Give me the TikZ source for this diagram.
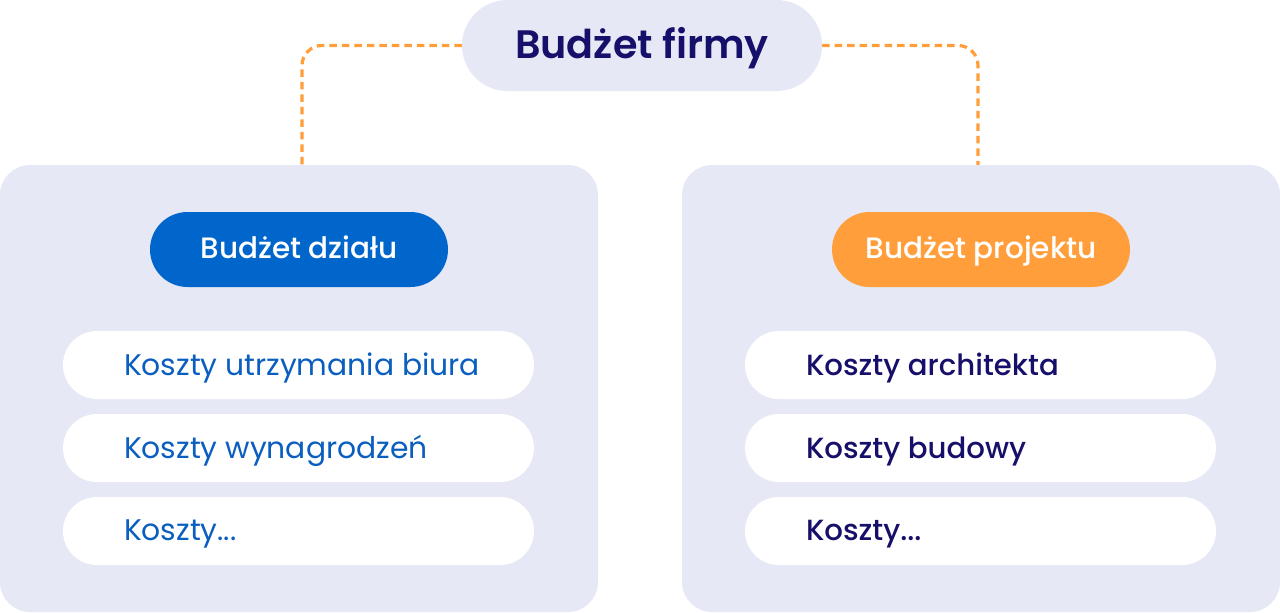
\documentclass[tikz,border=0pt]{standalone}
\usepackage{fontspec}
\setmainfont{Poppins}
\newfontfamily\popmed{Poppins Medium}
\newfontfamily\popsemi{Poppins SemiBold}
\usepackage{tikz}
\usetikzlibrary{shapes,arrows,positioning}

\definecolor{panelbg}{HTML}{E6E9F5}
\definecolor{navy}{HTML}{16106A}
\definecolor{blue}{HTML}{0066CC}
\definecolor{itemblue}{HTML}{0A5EBF}
\definecolor{orange}{HTML}{FF9E3A}

\tikzset{
	panel/.style={shape=rectangle, fill=panelbg, rounded corners=30pt, minimum width=598pt, minimum height=447pt},
	pill/.style={shape=rectangle, rounded corners=37.5pt, minimum width=298pt, minimum height=75pt, text=white, text depth=4pt, font=\popmed\fontsize{29.5}{33}\selectfont},
	item/.style={shape=rectangle, fill=white, rounded corners=34pt, minimum width=471pt, minimum height=68pt},
	itemtext/.style={anchor=west, inner sep=0pt, yshift=-3pt, font=\fontsize{29.8}{34}\selectfont},
	link/.style={draw=orange, line width=3.2pt, dash pattern=on 7.5pt off 5pt, rounded corners=20pt}
}

\begin{document}
\begin{tikzpicture}[x=1pt, y=-1pt]
	\useasboundingbox (0,0) rectangle (1280,613);

	\node[panel] (panelL) at (299,388.5) {};
	\node[panel] (panelR) at (981,388.5) {};

	\node[shape=rectangle, fill=panelbg, rounded corners=45.5pt, minimum width=360pt, minimum height=91pt, text=navy, text depth=6pt, font=\popsemi\fontsize{39.7}{46}\selectfont] (firmy) at (642,45.5) {Budżet firmy};

	\path [link] (firmy.west) -| ([xshift=3pt]panelL.north);
	\path [link] (firmy.east) -| ([xshift=-3pt]panelR.north);

	% dzial
	\node[pill, fill=blue] (dzial) at (299,249.5) {Budżet działu};
	\node[item] (d1) at (298.5,365) {};
	\node[item] (d2) at (298.5,448) {};
	\node[item] (d3) at (298.5,531) {};
	\node[itemtext, text=itemblue, right=61pt of d1.west] (d1t) {Koszty utrzymania biura};
	\node[itemtext, text=itemblue, right=61pt of d2.west] (d2t) {Koszty wynagrodzeń};
	\node[itemtext, text=itemblue, right=61pt of d3.west] (d3t) {Koszty...};

	% projekt
	\node[pill, fill=orange] (projekt) at (981,249.5) {Budżet projektu};
	\node[item] (p1) at (980.5,365) {};
	\node[item] (p2) at (980.5,448) {};
	\node[item] (p3) at (980.5,531) {};
	\node[itemtext, text=navy, font=\popmed\fontsize{29.2}{34}\selectfont, right=61pt of p1.west] (p1t) {Koszty architekta};
	\node[itemtext, text=navy, font=\popmed\fontsize{29.2}{34}\selectfont, right=61pt of p2.west] (p2t) {Koszty budowy};
	\node[itemtext, text=navy, font=\popmed\fontsize{29.2}{34}\selectfont, right=61pt of p3.west] (p3t) {Koszty...};
\end{tikzpicture}
\end{document}
